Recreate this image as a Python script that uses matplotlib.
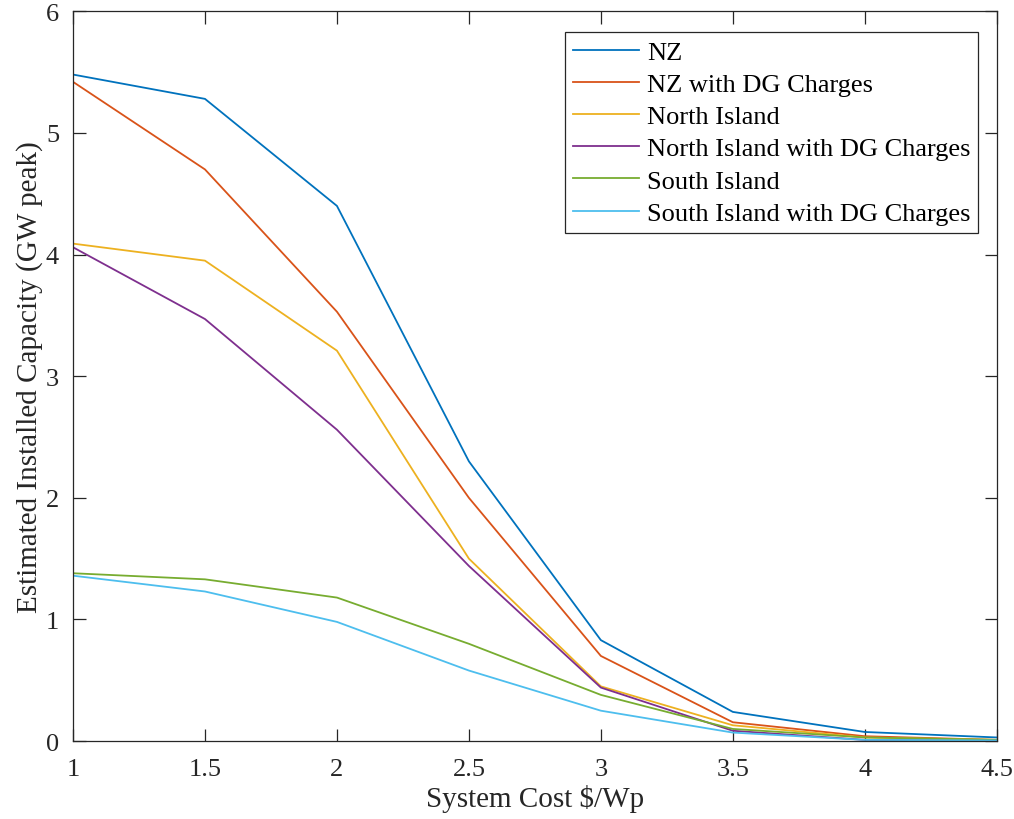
import matplotlib
matplotlib.use("Agg")
import matplotlib.pyplot as plt

x = [1, 1.5, 2, 2.5, 3, 3.5, 4, 4.5]
nz = [5.48, 5.28, 4.40, 2.30, 0.83, 0.24, 0.075, 0.03]
nz_dg = [5.42, 4.70, 3.53, 2.00, 0.70, 0.155, 0.04, 0.01]
ni = [4.09, 3.95, 3.21, 1.50, 0.45, 0.13, 0.03, 0.01]
ni_dg = [4.06, 3.47, 2.56, 1.44, 0.44, 0.085, 0.01, 0.005]
si = [1.38, 1.33, 1.18, 0.80, 0.38, 0.10, 0.03, 0.01]
si_dg = [1.36, 1.23, 0.98, 0.58, 0.25, 0.07, 0.01, 0.005]
labels = ["NZ", "NZ with DG Charges", "North Island", "North Island with DG Charges",
          "South Island", "South Island with DG Charges"]
colors = [(0, 0.447, 0.741), (0.85, 0.325, 0.098), (0.929, 0.694, 0.125),
          (0.494, 0.184, 0.556), (0.466, 0.674, 0.188), (0.301, 0.745, 0.933)]

plt.rcParams['font.family'] = ['Liberation Serif', 'DejaVu Serif']
fig = plt.figure(figsize=(10.14, 8.2), dpi=100)
ax = fig.add_axes([0.072, 0.095, 0.911, 0.890])
for s, lab, c in zip([nz, nz_dg, ni, ni_dg, si, si_dg], labels, colors):
    ax.plot(x, s, color=c, lw=1.3, label=lab)

ax.set_xlim(1, 4.5)
ax.set_ylim(0, 6)
ax.set_xticks(x)
ax.set_xticklabels(["1", "1.5", "2", "2.5", "3", "3.5", "4", "4.5"])
ax.set_yticks(range(7))
axc = (0.15, 0.15, 0.15)
ax.tick_params(direction='in', top=True, right=True, labelsize=19, colors=axc,
               length=9, width=0.9)
ax.tick_params(axis='x', pad=12)
ax.tick_params(axis='y', pad=10)
for sp in ax.spines.values():
    sp.set_color(axc)
    sp.set_linewidth(0.9)
ax.set_xlabel("System Cost $/Wp", fontsize=21, color=axc, labelpad=3)
ax.set_ylabel("Estimated Installed Capacity (GW peak)", fontsize=21, color=axc, labelpad=2)
leg = ax.legend(loc='upper right', fontsize=19, fancybox=False, framealpha=1,
                edgecolor=axc, bbox_to_anchor=(0.98, 0.971), borderaxespad=0,
                handlelength=2.5, handletextpad=0.3, labelspacing=0.33, borderpad=0.3)
leg.get_frame().set_linewidth(0.9)
fig.savefig("out.png", dpi=100)
